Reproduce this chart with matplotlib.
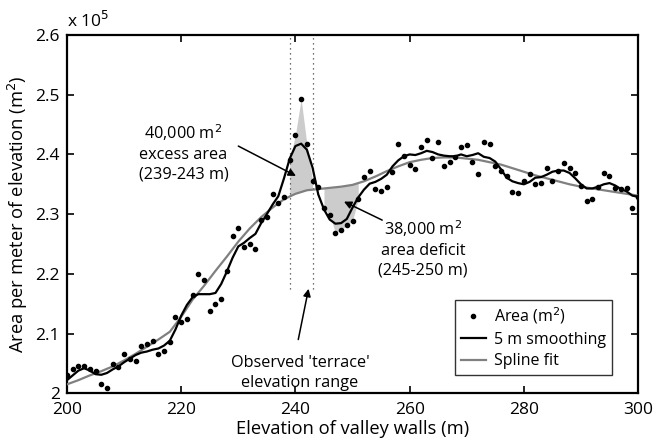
import numpy as np
import matplotlib.pyplot as plt
from matplotlib.ticker import FuncFormatter

plt.rcParams['font.family'] = ['Open Sans', 'DejaVu Sans']

# --- data (area in units of 1e5 m^2) ---
elev = list(range(200, 301))
area = [2.030, 2.040, 2.045, 2.046, 2.041, 2.038, 2.015, 2.009, 2.049, 2.044,
        2.066, 2.057, 2.054, 2.080, 2.082, 2.088, 2.066, 2.071, 2.086, 2.127,
        2.119, 2.124, 2.165, 2.200, 2.189, 2.138, 2.150, 2.158, 2.205, 2.264,
        2.277, 2.245, 2.250, 2.242, 2.291, 2.296, 2.333, 2.318, 2.328, 2.391,
        2.433, 2.493, 2.418, 2.356, 2.345, 2.311, 2.299, 2.269, 2.274, 2.281,
        2.289, 2.325, 2.363, 2.373, 2.342, 2.339, 2.346, 2.370, 2.418, 2.397,
        2.383, 2.376, 2.412, 2.424, 2.394, 2.421, 2.380, 2.388, 2.396, 2.413,
        2.416, 2.387, 2.367, 2.420, 2.418, 2.381, 2.373, 2.364, 2.337, 2.335,
        2.355, 2.367, 2.350, 2.352, 2.377, 2.355, 2.372, 2.386, 2.377, 2.369,
        2.347, 2.322, 2.325, 2.346, 2.369, 2.364, 2.343, 2.342, 2.343, 2.310,
        2.329]
smooth = [2.022, 2.030, 2.038, 2.042, 2.038, 2.032, 2.031, 2.034, 2.040, 2.045,
          2.052, 2.058, 2.064, 2.068, 2.070, 2.073, 2.075, 2.080, 2.088, 2.107,
          2.130, 2.148, 2.161, 2.166, 2.166, 2.166, 2.168, 2.183, 2.204, 2.227,
          2.246, 2.252, 2.260, 2.267, 2.285, 2.300, 2.316, 2.330, 2.360, 2.393,
          2.414, 2.418, 2.408, 2.378, 2.333, 2.308, 2.291, 2.284, 2.285, 2.292,
          2.311, 2.328, 2.341, 2.351, 2.354, 2.359, 2.366, 2.380, 2.390, 2.397,
          2.400, 2.399, 2.402, 2.406, 2.404, 2.400, 2.398, 2.397, 2.397, 2.400,
          2.397, 2.399, 2.402, 2.396, 2.394, 2.388, 2.375, 2.361, 2.355, 2.352,
          2.350, 2.354, 2.361, 2.362, 2.366, 2.371, 2.373, 2.373, 2.369, 2.360,
          2.350, 2.343, 2.343, 2.346, 2.350, 2.352, 2.348, 2.342, 2.338, 2.331,
          2.329]
spline_elev = list(range(200, 301, 2))
spline = [2.015, 2.022, 2.030, 2.037, 2.045, 2.055, 2.066, 2.078, 2.090, 2.103,
          2.128, 2.157, 2.180, 2.205, 2.229, 2.254, 2.276, 2.295, 2.311, 2.325,
          2.334, 2.340, 2.342, 2.344, 2.346, 2.349, 2.355, 2.363, 2.372, 2.380,
          2.387, 2.391, 2.394, 2.395, 2.395, 2.393, 2.391, 2.387, 2.383, 2.377,
          2.371, 2.365, 2.360, 2.355, 2.350, 2.346, 2.343, 2.340, 2.337, 2.334,
          2.331]
excess_range = (239, 243)
deficit_range = (245, 251)
terrace_lines = [239, 243]

elev = np.array(elev)
area = np.array(area)
spline_at = np.interp(elev, spline_elev, spline)

fig = plt.figure(figsize=(6.53, 4.43), dpi=100)
ax = fig.add_axes([0.1026, 0.1122, 0.8745, 0.8088])

# shaded excess / deficit areas between data and spline
m = (elev >= excess_range[0]) & (elev <= excess_range[1])
ax.fill_between(elev[m], spline_at[m], area[m], color='#cccccc', lw=0, zorder=1)
m = (elev >= deficit_range[0]) & (elev <= deficit_range[1])
ax.fill_between(elev[m], spline_at[m], area[m], color='#cccccc', lw=0, zorder=1)

for xv in terrace_lines:
    ax.plot([xv, xv], [2.175, 2.6], ls=(0, (1, 3)), color='#444444', lw=0.9, zorder=2)

ax.plot(spline_elev, spline, color='#808080', lw=1.6, label='Spline fit', zorder=3)
ax.plot(elev, smooth, color='black', lw=1.6, label='5 m smoothing', zorder=4)
ax.plot(elev, area, 'o', color='black', ms=3.0, label='Area (m$^2$)', zorder=5)

ax.set_xlim(200, 300)
ax.set_ylim(2.0, 2.6)
ax.set_xticks(range(200, 301, 20))
ax.set_yticks(np.arange(2.0, 2.61, 0.1))
ax.yaxis.set_major_formatter(FuncFormatter(lambda v, p: ('%.1f' % v).rstrip('0').rstrip('.')))
ax.tick_params(direction='in', top=True, right=True, length=5, width=1.2, labelsize=12.5)
ax.tick_params(axis='x', pad=6)
ax.tick_params(axis='y', pad=5)
for s in ax.spines.values():
    s.set_linewidth(1.6)

ax.set_xlabel('Elevation of valley walls (m)', fontsize=13.2, labelpad=2)
ax.set_ylabel('Area per meter of elevation (m$^2$)', fontsize=13.2)
ax.text(0.0, 1.012, r'x 10$^5$', transform=ax.transAxes, fontsize=12.5, ha='left', va='bottom')

# annotations
fs = 11.7
arrow = dict(arrowstyle='-|>', color='black', lw=1.1, mutation_scale=11, shrinkA=0, shrinkB=0)
ax.text(220.4, 2.403, '40,000 m$^2$\nexcess area\n(239-243 m)', ha='center', va='center',
        fontsize=fs, linespacing=1.3)
ax.annotate('', xy=(240.1, 2.364), xytext=(230.0, 2.414), arrowprops=arrow)
ax.text(262.3, 2.243, '38,000 m$^2$\narea deficit\n(245-250 m)', ha='center', va='center',
        fontsize=fs, linespacing=1.3)
ax.annotate('', xy=(248.5, 2.321), xytext=(255.2, 2.290), arrowprops=arrow)
ax.text(240.8, 2.034, "Observed 'terrace'\nelevation range", ha='center', va='center',
        fontsize=fs, linespacing=1.3)
ax.annotate('', xy=(242.3, 2.175), xytext=(240.5, 2.09), arrowprops=arrow)

leg = ax.legend(handles=ax.get_lines()[-1:-4:-1], loc='lower right', bbox_to_anchor=(0.954, 0.051),
                fontsize=11.5, frameon=True, fancybox=False, edgecolor='black',
                handlelength=1.6, borderpad=0.35, labelspacing=0.35, handletextpad=0.5,
                borderaxespad=0)
leg.get_frame().set_linewidth(1.0)

fig.savefig('out.png', dpi=100)
